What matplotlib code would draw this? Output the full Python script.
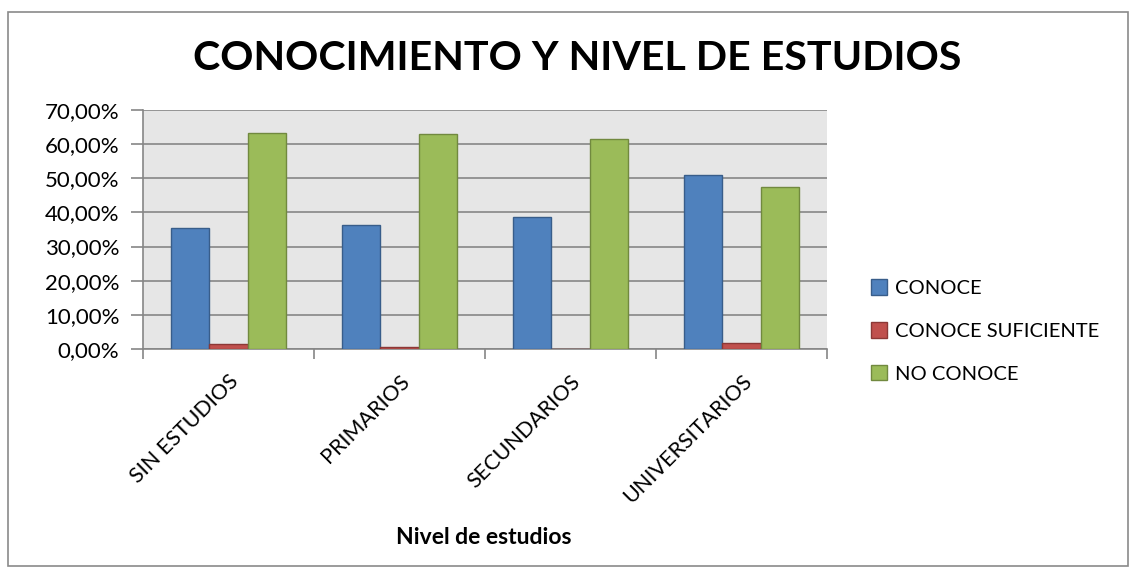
import numpy as np
import matplotlib.pyplot as plt
from matplotlib.patches import Rectangle

plt.rcParams['font.family'] = ['Lato', 'DejaVu Sans']

# Data
categorias = ['SIN ESTUDIOS', 'PRIMARIOS', 'SECUNDARIOS', 'UNIVERSITARIOS']
conoce = [35.3, 36.3, 38.6, 51.0]
conoce_suficiente = [1.5, 0.6, 0.0, 1.8]
no_conoce = [63.2, 62.9, 61.4, 47.4]
series_nombres = ['CONOCE', 'CONOCE SUFICIENTE', 'NO CONOCE']
y_ticks = [0, 10, 20, 30, 40, 50, 60, 70]

colores = ['#4F81BD', '#C0504D', '#9BBB59']
bordes = ['#385D8A', '#8C3836', '#71893F']

fig = plt.figure(figsize=(11.31, 5.69), dpi=100)
fig.patch.set_facecolor('white')

# outer chart border
fig.patches.append(Rectangle((8 / 1131, 3 / 569), 1120 / 1131, 554 / 569,
                             transform=fig.transFigure, fill=False,
                             edgecolor='#8a8a8a', linewidth=1.2))

ax = fig.add_axes([143 / 1131, 1 - 349 / 569, 684 / 1131, 239 / 569])
ax.set_facecolor('#E6E6E6')

x = np.arange(len(categorias))
w = 0.225
for i, (vals, nombre) in enumerate(zip([conoce, conoce_suficiente, no_conoce], series_nombres)):
    ax.bar(x + (i - 1) * w, vals, width=w, color=colores[i], edgecolor=bordes[i],
           linewidth=1, label=nombre, zorder=3)

ax.set_xlim(-0.5, len(categorias) - 0.5)
ax.set_ylim(0, 70)
ax.set_yticks(y_ticks)
ax.set_yticklabels([f'{v:.2f}%'.replace('.', ',') for v in y_ticks], fontsize=16)
ax.yaxis.grid(True, color='#868686', linewidth=1.2, zorder=0)
ax.tick_params(axis='y', length=9, color='#868686', width=1.2, pad=8)

ax.set_xticks(x)
ax.set_xticklabels(categorias, rotation=45, ha='right', rotation_mode='anchor',
                   fontsize=15.5)
ax.set_xticks(np.arange(len(categorias) + 1) - 0.5, minor=True)
ax.tick_params(axis='x', which='major', length=0, pad=16)
ax.tick_params(axis='x', which='minor', length=7, color='#868686', width=1.2)

for s in ['top', 'right']:
    ax.spines[s].set_visible(False)
for s in ['left', 'bottom']:
    ax.spines[s].set_color('#868686')
    ax.spines[s].set_linewidth(1.2)

fig.text(577 / 1131, 1 - 58 / 569, 'CONOCIMIENTO Y NIVEL DE ESTUDIOS',
         ha='center', va='center', fontsize=29.6, fontweight='bold')
fig.text(484 / 1131, 1 - 537 / 569, 'Nivel de estudios', ha='center', va='center',
         fontsize=16.5, fontweight='bold')

ax.legend(loc='center left', bbox_to_anchor=(853 / 1131, 1 - 331 / 569),
          bbox_transform=fig.transFigure, frameon=False, fontsize=14.5,
          handlelength=0.8, handleheight=0.8, handletextpad=0.4, labelspacing=1.25)

fig.savefig('out.png', dpi=100)
